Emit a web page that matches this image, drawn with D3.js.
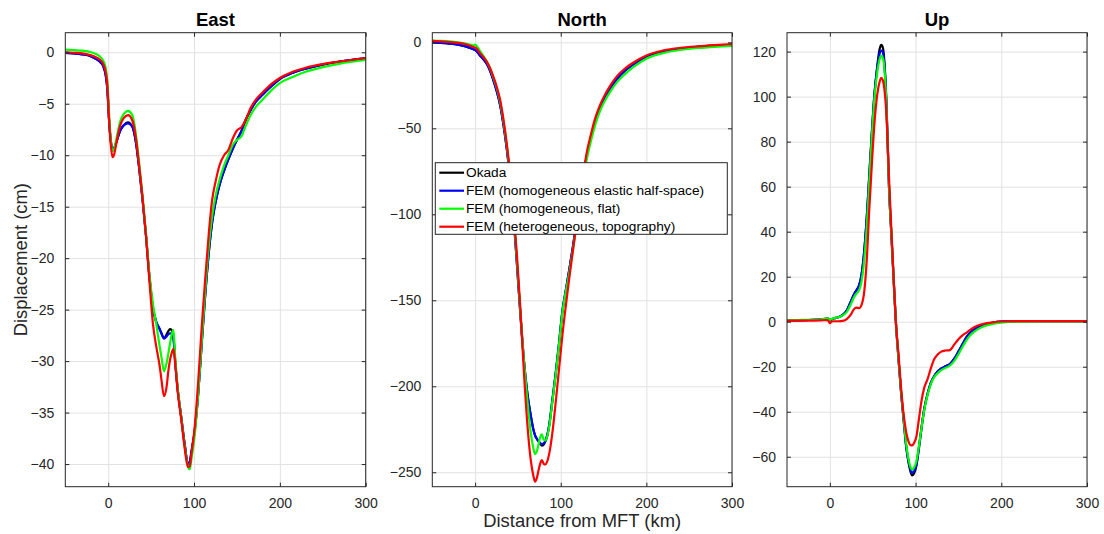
<!DOCTYPE html>
<html>
<head>
<meta charset="utf-8">
<script src="https://cdn.jsdelivr.net/npm/d3@7"></script>
<style>
  body { margin: 0; background: #fff; }
  text { font-family: "Liberation Sans", Arial, Helvetica, sans-serif; }
</style>
</head>
<body>
<svg id="fig" width="1104" height="534"></svg>
<script>
// ---- Surface displacement profiles along the section (distance from MFT, km) ----

// East component (cm)
const eastX = [-50,-40,-30,-20,-15,-10,-6,-3,-1,1,3,5,7,10,14,18,23,28,32,36,40,44,48,52,56,60,62,65,68,70,72,74,76,78,81,85,89,93,95,97,101,105,109,113,117,121,125,130,135,140,145,150,155,160,166,172,180,190,200,215,230,250,270,300];
const eastHalf = [-0.05,-0.1,-0.2,-0.4,-0.6,-0.9,-1.3,-2.2,-3.6,-6.6,-8.6,-9.4,-9.3,-8.6,-7.6,-7.1,-6.9,-7.2,-8.6,-11.2,-14.3,-17.8,-21.8,-24.8,-26.2,-26.9,-27.3,-27.8,-27.6,-27.4,-27.3,-27.3,-27.8,-30.0,-32.8,-35.4,-38.0,-40.0,-39.8,-38.8,-36.6,-33.0,-28.2,-23.6,-19.6,-16.6,-14.6,-12.8,-11.5,-10.4,-9.4,-8.5,-7.7,-6.6,-5.6,-4.8,-4.1,-3.3,-2.6,-2.0,-1.6,-1.2,-0.9,-0.6];
const eastOkada = [-0.05,-0.1,-0.2,-0.4,-0.6,-0.9,-1.3,-2.2,-3.6,-6.6,-8.6,-9.4,-9.3,-8.6,-7.6,-7.1,-6.8,-7.2,-8.6,-11.2,-14.3,-17.8,-21.8,-24.8,-26.2,-26.9,-27.3,-27.8,-27.4,-27.1,-26.9,-27.0,-27.6,-30.0,-32.8,-35.4,-38.0,-40.0,-39.8,-38.8,-36.6,-33.0,-28.2,-23.6,-19.6,-16.6,-14.6,-12.8,-11.5,-10.4,-9.4,-8.5,-7.7,-6.6,-5.6,-4.8,-4.1,-3.3,-2.6,-2.0,-1.6,-1.2,-0.9,-0.6];
const eastFlat = [0.25,0.2,0.15,0.0,-0.15,-0.4,-0.8,-1.5,-2.8,-6.0,-8.5,-9.6,-9.4,-8.2,-6.7,-6.0,-5.7,-6.1,-7.8,-10.7,-14.0,-17.6,-21.5,-24.4,-26.4,-28.6,-29.6,-31.0,-30.2,-29.3,-28.3,-27.4,-27.0,-29.6,-32.6,-35.4,-38.2,-40.3,-40.5,-39.5,-37.0,-33.0,-28.0,-23.2,-19.0,-16.0,-14.0,-12.3,-11.0,-10.0,-9.0,-8.5,-8.2,-7.2,-6.1,-5.3,-4.6,-3.7,-3.0,-2.4,-1.9,-1.45,-1.1,-0.75];
const eastTopo = [0.0,-0.05,-0.1,-0.3,-0.45,-0.7,-1.1,-1.9,-3.2,-6.5,-9.0,-10.2,-9.9,-8.6,-7.1,-6.4,-6.1,-6.6,-8.2,-11.0,-14.1,-17.8,-22.2,-26.3,-28.6,-30.5,-31.8,-33.4,-32.5,-31.0,-29.9,-29.2,-28.8,-30.2,-33.0,-35.6,-38.4,-40.3,-40.2,-39.0,-36.2,-31.8,-26.6,-22.0,-17.8,-14.4,-12.6,-10.9,-10.0,-9.5,-8.4,-7.6,-7.3,-6.6,-5.4,-4.6,-3.9,-3.1,-2.5,-1.9,-1.5,-1.15,-0.9,-0.55];

// North component (cm)
const northX = [-50,-40,-30,-20,-10,-5,-2,0,2,5,9,13,17,21,25,29,33,37,41,45,49,53,57,61,65,68,70,72,74,76,78,80,82,84,87,90,94,98,102,106,110,114,118,122,126,130,135,140,145,150,158,166,175,185,200,220,240,260,280,300];
const northHalf = [0,-0.3,-0.7,-1.3,-2.5,-3.4,-4.0,-4.5,-5.3,-7.2,-9.5,-12.0,-16.0,-21.5,-28.0,-36.0,-47.5,-62.0,-80.0,-102.0,-130.0,-159.0,-185.0,-204.0,-217.0,-225.0,-228.5,-230.5,-232.0,-233.0,-233.7,-233.2,-231.8,-229.0,-221.0,-209.0,-193.0,-175.0,-156.0,-144.0,-132.0,-119.5,-106.0,-93.0,-80.0,-67.0,-56.0,-46.5,-39.0,-33.5,-26.5,-21.0,-16.5,-12.8,-8.3,-5.2,-3.6,-2.6,-1.9,-1.4];
const northOkada = [0,-0.3,-0.7,-1.3,-2.5,-3.4,-4.0,-4.5,-5.3,-7.2,-9.5,-12.0,-16.0,-21.5,-28.0,-36.0,-47.5,-62.0,-80.0,-102.0,-130.0,-159.0,-185.0,-204.0,-217.0,-225.0,-228.5,-230.5,-232.0,-233.5,-234.5,-234.0,-232.0,-229.0,-221.0,-209.0,-193.0,-175.0,-156.0,-144.0,-132.0,-119.5,-106.0,-93.0,-80.0,-67.0,-56.0,-46.5,-39.0,-33.5,-26.5,-21.0,-16.5,-12.8,-8.3,-5.2,-3.6,-2.6,-1.9,-1.4];
const northFlat = [1.0,0.8,0.5,0.0,-0.8,-1.4,-1.8,-1.3,-2.2,-4.5,-7.5,-10.5,-14.5,-20.0,-26.0,-34.0,-45.5,-60.0,-78.0,-100.0,-128.0,-158.0,-185.0,-208.0,-227.0,-236.0,-239.5,-238.0,-234.0,-229.5,-228.0,-231.0,-231.5,-229.5,-222.0,-210.0,-194.0,-176.0,-157.0,-145.0,-134.0,-121.5,-108.0,-95.0,-82.0,-69.0,-58.0,-48.5,-41.0,-35.5,-28.5,-23.0,-18.5,-14.3,-9.5,-6.2,-4.4,-3.3,-2.6,-2.1];
const northTopo = [0.8,0.5,0.2,-0.3,-1.3,-2.2,-2.8,-3.0,-3.8,-5.8,-8.2,-10.8,-14.5,-19.5,-25.5,-33.0,-44.5,-59.0,-77.0,-99.0,-125.0,-156.0,-192.0,-222.0,-243.0,-252.0,-255.5,-253.5,-249.0,-245.0,-243.0,-245.0,-245.5,-244.0,-238.0,-228.0,-210.0,-190.0,-170.0,-153.0,-137.0,-122.0,-107.0,-92.0,-78.0,-65.0,-54.0,-44.5,-37.5,-32.0,-25.0,-19.5,-15.2,-11.7,-7.6,-4.7,-3.2,-2.3,-1.6,-1.0];

// Vertical component (cm)
const upX = [-50,-30,-10,-5,-2,0,2,5,10,15,20,25,28,31,34,37,40,43,46,49,52,55,58,60,62,64,66,69,72,75,77,80,83,86,89,92,94,96,98,101,104,107,110,114,118,122,126,130,135,140,145,150,155,160,166,172,180,190,200,220,250,300];
const upHalf = [0.5,0.7,1.0,1.3,1.4,0.7,1.0,1.5,2.0,3.0,5.2,9.5,12.0,14.0,16.0,21.0,31.0,46.0,65.0,84.0,101.0,112.0,119.0,120.5,119.5,112.0,97.0,60.0,37.0,14.5,0.0,-16.0,-31.0,-43.0,-55.0,-62.5,-65.5,-67.2,-66.5,-63.5,-55.5,-47.0,-39.0,-32.0,-27.0,-24.0,-22.0,-20.8,-19.8,-18.8,-16.5,-13.3,-9.8,-6.5,-4.0,-2.5,-1.2,-0.4,0.0,0.2,0.2,0.2];
const upOkada = [0.5,0.7,1.0,1.3,1.4,0.7,1.0,1.5,2.0,3.0,5.2,9.5,12.0,14.0,16.0,21.0,31.0,46.0,65.0,84.0,101.0,112.5,121.0,123.0,121.5,113.5,97.5,60.0,37.0,14.5,0.0,-16.0,-31.0,-43.5,-55.5,-63.0,-66.5,-68.3,-67.5,-64.0,-56.0,-47.0,-39.0,-32.0,-27.0,-24.0,-22.0,-20.8,-19.8,-18.8,-16.5,-13.3,-9.8,-6.5,-4.0,-2.5,-1.2,-0.4,0.0,0.2,0.2,0.2];
const upFlat = [0.6,0.8,1.1,1.4,1.5,0.8,1.2,1.6,2.0,2.8,4.5,8.2,10.8,12.5,13.8,18.0,27.0,42.0,62.0,82.0,99.0,110.0,116.5,118.2,117.0,110.5,96.0,60.0,37.5,14.5,0.0,-16.0,-30.5,-42.5,-54.0,-61.5,-64.5,-65.8,-65.0,-62.0,-55.0,-47.0,-39.5,-32.5,-27.5,-24.5,-22.8,-21.5,-20.5,-19.5,-17.5,-14.5,-11.0,-7.8,-5.2,-3.5,-2.0,-1.0,-0.4,0.0,0.1,0.1];
const upTopo = [0.4,0.5,0.6,0.7,0.5,-0.7,0.1,0.2,0.2,0.4,1.3,3.5,5.5,6.3,6.0,7.5,13.0,27.0,50.0,70.0,88.0,100.0,106.5,108.3,107.0,102.0,92.0,64.0,39.0,15.0,0.0,-14.0,-29.0,-41.0,-49.0,-53.5,-54.8,-55.0,-54.0,-51.0,-43.0,-35.0,-29.5,-25.5,-20.5,-16.5,-14.5,-13.3,-12.8,-12.6,-10.2,-7.8,-6.0,-4.7,-3.0,-1.8,-0.9,-0.3,0.1,0.3,0.3,0.3];

// Tick values
const xTicks = [0, 100, 200, 300];
const eastTicks = [0, -5, -10, -15, -20, -25, -30, -35, -40];
const northTicks = [0, -50, -100, -150, -200, -250];
const upTicks = [-60, -40, -20, 0, 20, 40, 60, 80, 100, 120];

// Series names and colours (drawn in this order, last on top)
const seriesNames = ["Okada", "FEM (homogeneous elastic half-space)", "FEM (homogeneous, flat)", "FEM (heterogeneous, topography)"];
const seriesColors = ["#000000", "#0000ff", "#00ff00", "#ff0000"];

// ---- Layout ----
const svg = d3.select("#fig");
const plotTop = 32.7, plotBottom = 486.7;
const axisColor = "#262626";
const gridColor = "#e2e2e2";

const panels = [
  { title: "East",  left: 65.3,  right: 365.7, yDomain: [-42.2, 1.9],  yTicks: eastTicks,  x: eastX,  ys: [eastOkada, eastHalf, eastFlat, eastTopo] },
  { title: "North", left: 432.3, right: 732.0, yDomain: [-258.4, 5.6], yTicks: northTicks, x: northX, ys: [northOkada, northHalf, northFlat, northTopo] },
  { title: "Up",    left: 787.0, right: 1087.0, yDomain: [-73.3, 128.4], yTicks: upTicks, x: upX,    ys: [upOkada, upHalf, upFlat, upTopo] }
];

panels.forEach((p, i) => {
  const x = d3.scaleLinear().domain([-50, 300]).range([p.left, p.right]);
  const y = d3.scaleLinear().domain(p.yDomain).range([plotBottom, plotTop]);
  const w = p.right - p.left, h = plotBottom - plotTop;
  const g = svg.append("g");

  // grid
  g.append("g").attr("transform", `translate(0,${plotBottom})`)
    .call(d3.axisBottom(x).tickValues(xTicks).tickSize(-h).tickFormat(""))
    .call(a => a.select(".domain").remove())
    .selectAll("line").attr("stroke", gridColor).attr("stroke-width", 1);
  g.append("g").attr("transform", `translate(${p.left},0)`)
    .call(d3.axisLeft(y).tickValues(p.yTicks).tickSize(-w).tickFormat(""))
    .call(a => a.select(".domain").remove())
    .selectAll("line").attr("stroke", gridColor).attr("stroke-width", 1);

  // curves
  const clipId = "clip" + i;
  svg.append("clipPath").attr("id", clipId).append("rect")
    .attr("x", p.left).attr("y", plotTop).attr("width", w).attr("height", h);
  const line = d3.line().x(d => x(d[0])).y(d => y(d[1])).curve(d3.curveMonotoneX);
  const curves = g.append("g").attr("clip-path", `url(#${clipId})`);
  p.ys.forEach((vals, k) => {
    const pts = p.x.map((xv, j) => [xv, vals[j]]);
    curves.append("path").attr("d", line(pts))
      .attr("fill", "none").attr("stroke", seriesColors[k])
      .attr("stroke-width", 2.2).attr("stroke-linejoin", "round");
  });

  // axes with inward ticks on all four sides
  const styleAxis = a => {
    a.select(".domain").remove();
    a.selectAll("line").attr("stroke", axisColor);
    a.selectAll("text").attr("fill", axisColor).style("font-size", "14px")
      .style("font-family", "'Liberation Sans', Arial, Helvetica, sans-serif");
  };
  g.append("g").attr("transform", `translate(0,${plotBottom})`)
    .call(d3.axisBottom(x).tickValues(xTicks).tickSize(-4).tickPadding(11))
    .call(styleAxis);
  g.append("g").attr("transform", `translate(0,${plotTop})`)
    .call(d3.axisTop(x).tickValues(xTicks).tickSize(-4).tickFormat(""))
    .call(styleAxis);
  g.append("g").attr("transform", `translate(${p.left},0)`)
    .call(d3.axisLeft(y).tickValues(p.yTicks).tickSize(-4).tickPadding(11))
    .call(styleAxis);
  g.append("g").attr("transform", `translate(${p.right},0)`)
    .call(d3.axisRight(y).tickValues(p.yTicks).tickSize(-4).tickFormat(""))
    .call(styleAxis);

  // box
  g.append("rect").attr("x", p.left).attr("y", plotTop).attr("width", w).attr("height", h)
    .attr("fill", "none").attr("stroke", axisColor).attr("stroke-width", 1);

  // title
  g.append("text").attr("x", (p.left + p.right) / 2).attr("y", 26)
    .attr("text-anchor", "middle").attr("font-weight", "bold")
    .attr("font-size", 18.5).attr("fill", "#000").text(p.title);

  // legend inside the North panel
  if (p.title === "North") {
    const lg = g.append("g").attr("transform", "translate(435.3,162.7)");
    lg.append("rect").attr("width", 292).attr("height", 71.6)
      .attr("fill", "#fff").attr("stroke", axisColor).attr("stroke-width", 1);
    seriesNames.forEach((name, k) => {
      const yy = 10 + k * 18;
      lg.append("line").attr("x1", 4).attr("x2", 28.7).attr("y1", yy).attr("y2", yy)
        .attr("stroke", seriesColors[k]).attr("stroke-width", 2.2);
      lg.append("text").attr("x", 30.7).attr("y", yy).attr("dy", "0.35em")
        .attr("font-size", 13.7).attr("fill", "#000").text(name);
    });
  }
});

// shared axis labels
svg.append("text").attr("x", 582.2).attr("y", 527).attr("text-anchor", "middle")
  .attr("font-size", 18.4).attr("fill", axisColor).text("Distance from MFT (km)");
svg.append("text").attr("transform", "translate(26.5,259.7) rotate(-90)")
  .attr("text-anchor", "middle").attr("font-size", 18.4).attr("fill", axisColor)
  .text("Displacement (cm)");
</script>
</body>
</html>
